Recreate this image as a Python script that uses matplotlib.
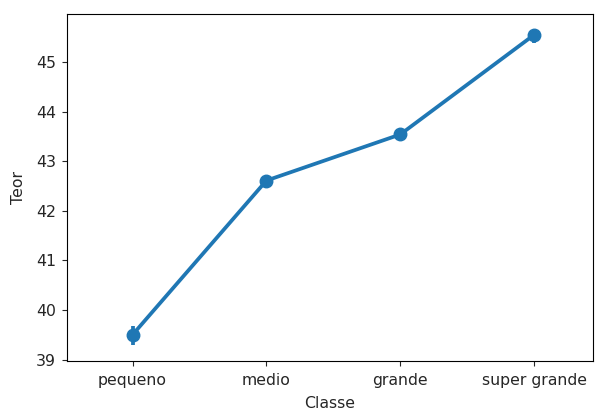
import matplotlib
matplotlib.use("Agg")
import matplotlib.pyplot as plt

classes = ["pequeno", "medio", "grande", "super grande"]
teor_mean = [39.50, 42.61, 43.54, 45.55]
ci_low = [39.29, 42.55, 43.49, 45.38]
ci_high = [39.67, 42.67, 43.59, 45.66]

plt.rcParams["font.size"] = 11.3
plt.rcParams["text.color"] = "#262626"
plt.rcParams["axes.labelcolor"] = "#262626"
plt.rcParams["xtick.color"] = "#262626"
plt.rcParams["ytick.color"] = "#262626"

fig = plt.figure(figsize=(5.95, 4.12), dpi=100)
ax = fig.add_axes([67/595, 1 - 361/412, (593 - 67)/595, (361 - 14)/412])

x = list(range(len(classes)))
color = "#1f77b4"
ax.vlines(x, ci_low, ci_high, color=color, linewidth=2.7)
ax.plot(x, teor_mean, color=color, linewidth=2.7, marker="o", markersize=9)

ax.set_xticks(x)
ax.set_xticklabels(classes)
ax.tick_params(axis="x", pad=5)
ax.tick_params(axis="y", pad=4.5)
ax.set_xlim(-0.49, 3.44)
ax.set_ylim(38.97, 45.97)
ax.set_xlabel("Classe", labelpad=6)
ax.set_ylabel("Teor", labelpad=7)

fig.savefig("out.png", dpi=100)
